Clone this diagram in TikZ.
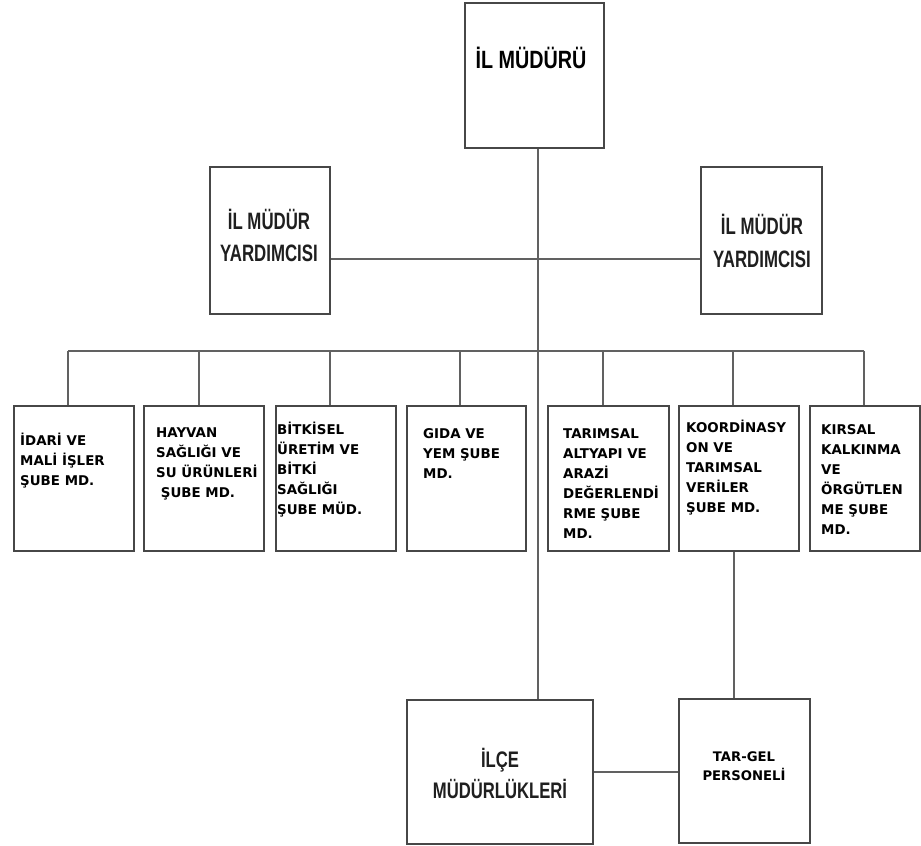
\documentclass[tikz,border=0pt]{standalone}
\usepackage{fontspec}
\setmainfont{Liberation Sans}
\newfontfamily\titlefont{Liberation Sans}[FakeStretch=0.79]
\newfontfamily\depfont{Liberation Sans}[FakeStretch=0.71]
\newfontfamily\ilcefont{Liberation Sans}[FakeStretch=0.74]
\newfontfamily\subfont{DejaVu Sans}
\tikzset{
  box/.style={draw=black!72, line width=2.2pt, rectangle, inner sep=0pt, anchor=north west},
  conn/.style={draw=black!62, line width=1.8pt},
  sub/.style={anchor=base west, inner sep=0pt, font=\subfont\bfseries\fontsize{13.4}{20}\selectfont, text=black},
  big/.style={anchor=base, inner sep=0pt, text=black!88},
}
\newcommand{\stack}[2]{\begin{tabular}[t]{@{}#1@{}}#2\end{tabular}}
\begin{document}
\begin{tikzpicture}[x=1pt,y=-1pt]
\fill[white] (0,0) rectangle (921,846);
\useasboundingbox (0,0) rectangle (921,846);

% top and deputies
\node[box, minimum width=139pt, minimum height=145pt] (top) at (464,2) {};
\node[box, minimum width=120pt, minimum height=147pt] (dl) at (209,166) {};
\node[box, minimum width=121pt, minimum height=147pt] (dr) at (700,166) {};

% branch offices
\node[box, minimum width=120pt, minimum height=145pt] (b1) at (13,405) {};
\node[box, minimum width=120pt, minimum height=145pt] (b2) at (143,405) {};
\node[box, minimum width=120pt, minimum height=145pt] (b3) at (275,405) {};
\node[box, minimum width=119pt, minimum height=145pt] (b4) at (406,405) {};
\node[box, minimum width=121pt, minimum height=145pt] (b5) at (547,405) {};
\node[box, minimum width=120pt, minimum height=145pt] (b6) at (678,405) {};
\node[box, minimum width=110pt, minimum height=145pt] (b7) at (809,405) {};

% bottom
\node[box, minimum width=186pt, minimum height=144pt] (ilce) at (406,699) {};
\node[box, minimum width=131pt, minimum height=144pt] (tg) at (678,698) {};

% texts
\node[big, font=\titlefont\bfseries\fontsize{25}{30}\selectfont, text=black] (ttop) at (531,68) {İL MÜDÜRÜ};
\node[big, font=\depfont\bfseries\fontsize{23.7}{32}\selectfont] (tdl) at (269,229) {\stack{c}{İL MÜDÜR\\YARDIMCISI}};
\node[big, font=\depfont\bfseries\fontsize{23.7}{33}\selectfont] (tdr) at (762,234) {\stack{c}{İL MÜDÜR\\YARDIMCISI}};
\node[big, font=\ilcefont\bfseries\fontsize{22.5}{31}\selectfont] (tilce) at (500,767) {\stack{c}{İLÇE\\MÜDÜRLÜKLERİ}};
\node[big, font=\subfont\bfseries\fontsize{13.2}{19}\selectfont, text=black] (ttg) at (744,761) {\stack{c}{TAR-GEL\\PERSONELİ}};

\node[sub] (t1) at (20,445) {\stack{l}{İDARİ VE\\MALİ İŞLER\\ŞUBE MD.}};
\node[sub] (t2) at (156,437) {\stack{l}{HAYVAN\\SAĞLIĞI VE\\SU ÜRÜNLERİ\\\ ŞUBE MD.}};
\node[sub] (t3) at (277,434) {\stack{l}{BİTKİSEL\\ÜRETİM VE\\BİTKİ\\SAĞLIĞI\\ŞUBE MÜD.}};
\node[sub] (t4) at (423,438) {\stack{l}{GIDA VE\\YEM ŞUBE\\MD.}};
\node[sub] (t5) at (563,438) {\stack{l}{TARIMSAL\\ALTYAPI VE\\ARAZİ\\DEĞERLENDİ\\RME ŞUBE\\MD.}};
\node[sub] (t6) at (686,432) {\stack{l}{KOORDİNASY\\ON VE\\TARIMSAL\\VERİLER\\ŞUBE MD.}};
\node[sub] (t7) at (821,434) {\stack{l}{KIRSAL\\KALKINMA\\VE\\ÖRGÜTLEN\\ME ŞUBE\\MD.}};

% connectors
\coordinate (cv) at ([xshift=3.5pt]top.south);
\draw[conn] (cv) -- (cv |- ilce.north);
\coordinate (hl) at ([yshift=-18.5pt]dl.east);
\draw[conn] (hl) -- (hl -| dr.west);

\coordinate (d1) at (68,351);
\coordinate (d2) at (199,351);
\coordinate (d3) at (330,351);
\coordinate (d4) at (460,351);
\coordinate (d5) at (603,351);
\coordinate (d6) at (733,351);
\coordinate (d7) at (864,351);
\draw[conn] (d1) -- (d7);
\foreach \i in {1,...,7}{\draw[conn] (d\i) -- (d\i |- b\i.north);}

\coordinate (v6) at ([xshift=-5pt]b6.south);
\draw[conn] (v6) -- (v6 |- tg.north);
\draw[conn] (ilce.east) -- (ilce.east -| tg.west);
\end{tikzpicture}
\end{document}
